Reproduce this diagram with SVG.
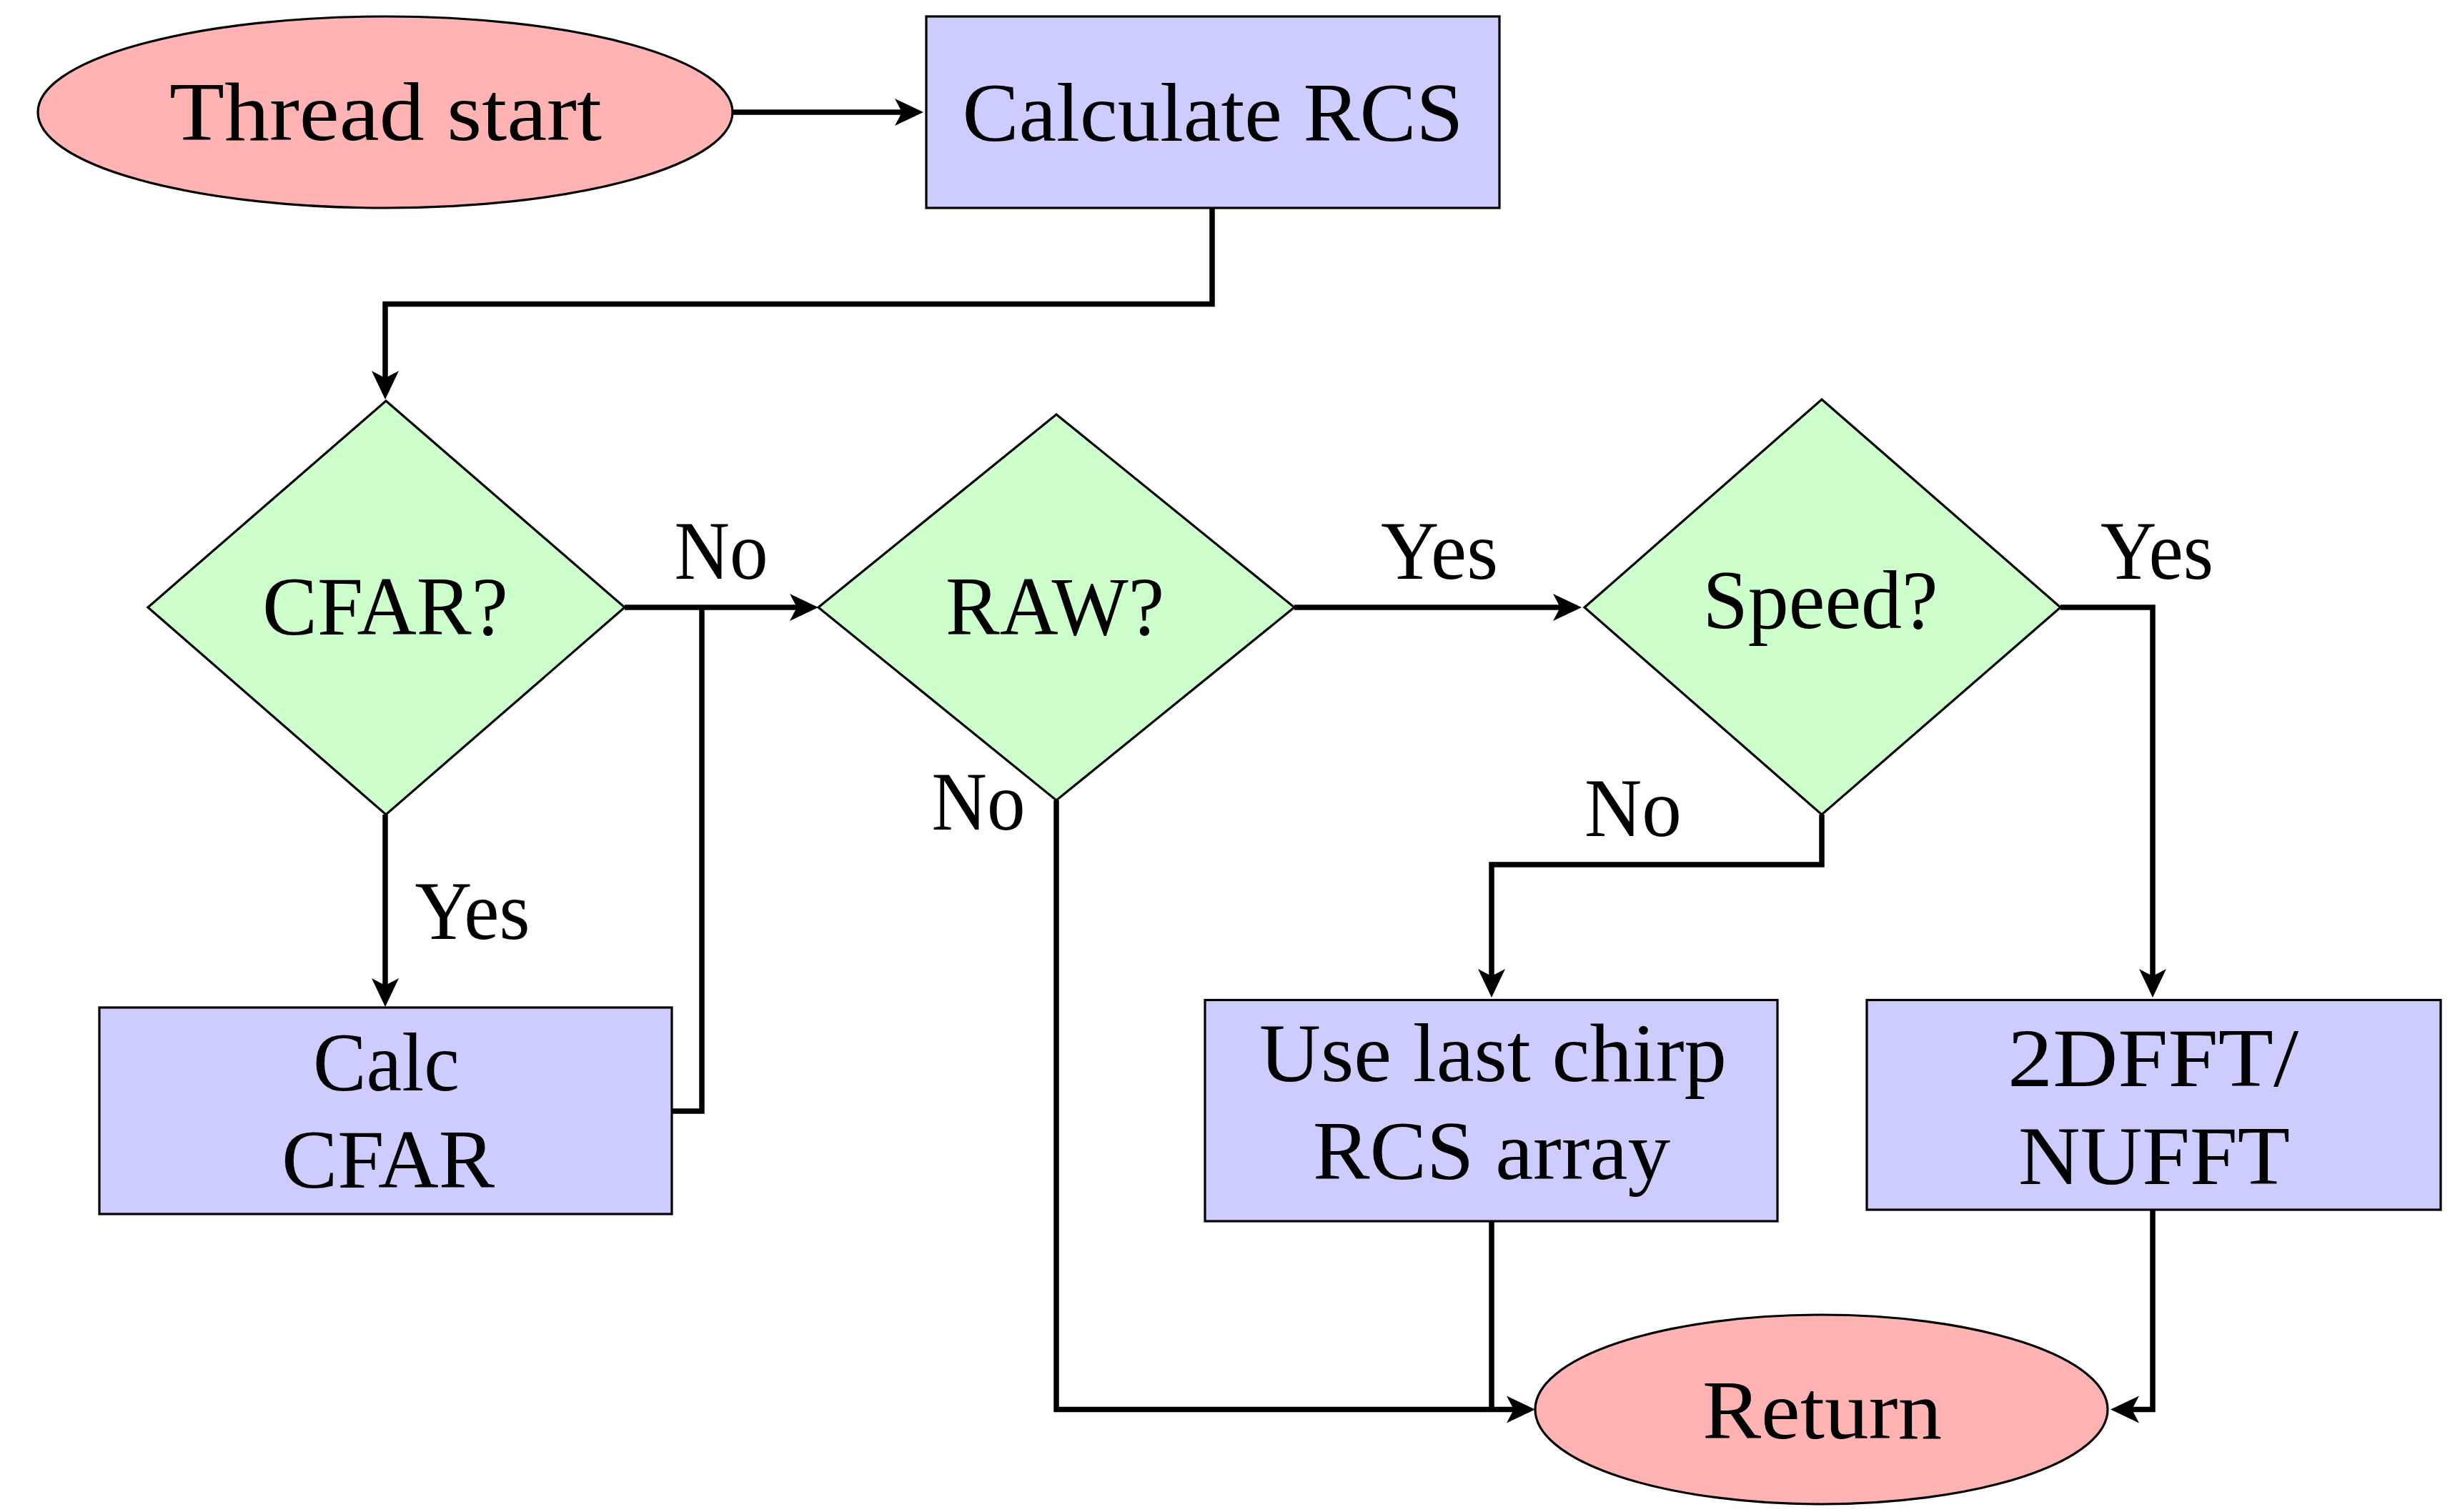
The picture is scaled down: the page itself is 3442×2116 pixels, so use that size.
<svg xmlns="http://www.w3.org/2000/svg" width="3442" height="2116" viewBox="0 0 3442 2116">
<style>
.term{fill:#FFB3B3;stroke:#000;stroke-width:3.2}
.proc{fill:#CCCCFF;stroke:#000;stroke-width:3.2}
.dec{fill:#CCFFCC;stroke:#000;stroke-width:3.2;stroke-linejoin:miter}
.t{font-family:"Liberation Serif","DejaVu Serif",serif;font-size:116px;fill:#000;text-anchor:middle}
.c{fill:none;stroke:#000;stroke-width:7.5;stroke-linejoin:miter;stroke-linecap:butt}
.a{marker-end:url(#arr)}
</style>
<defs>
<marker id="arr" markerUnits="userSpaceOnUse" viewBox="-20 -20 44 40" markerWidth="44" markerHeight="40" refX="0" refY="0" orient="auto" overflow="visible">
<path d="M22,0 L-18,-19 L-8,0 L-18,19 Z" fill="#000"/>
</marker>
</defs>
<rect width="3442" height="2116" fill="#fff"/>
<g id="connectors">
<path class="c a" d="M1025,157 H1270"/>
<path class="c a" d="M1696,291 V425.5 H539 V537"/>
<path class="c a" d="M539,1140 V1387"/>
<path class="c a" d="M874,850 H1123"/>
<path class="c" d="M940,1555 H982 V850"/>
<path class="c a" d="M1811,850 H2191"/>
<path class="c a" d="M2883,850 H3012 V1374"/>
<path class="c a" d="M2549,1140 V1210 H2087 V1374"/>
<path class="c a" d="M1478,1120 V1972.5 H2126"/>
<path class="c" d="M2087,1709 V1972.5"/>
<path class="c a" d="M3012,1693 V1972.5 H2975"/>
<text class="t" x="1009" y="810" textLength="131" lengthAdjust="spacingAndGlyphs">No</text>
<text class="t" x="661" y="1314" textLength="161" lengthAdjust="spacingAndGlyphs">Yes</text>
<text class="t" x="2014" y="810" textLength="164" lengthAdjust="spacingAndGlyphs">Yes</text>
<text class="t" x="1369" y="1161" textLength="131" lengthAdjust="spacingAndGlyphs">No</text>
<text class="t" x="3018" y="810" textLength="158" lengthAdjust="spacingAndGlyphs">Yes</text>
<text class="t" x="2285" y="1170" textLength="136" lengthAdjust="spacingAndGlyphs">No</text>
</g>
<g id="thread-start">
<ellipse class="term" cx="539" cy="157" rx="486" ry="134"/>
<text class="t" x="539.5" y="196" textLength="605" lengthAdjust="spacingAndGlyphs">Thread start</text>
</g>
<g id="calc-rcs">
<rect class="proc" x="1296" y="23" width="802" height="268"/>
<text class="t" x="1697" y="197" textLength="701" lengthAdjust="spacingAndGlyphs">Calculate RCS</text>
</g>
<g id="cfar">
<polygon class="dec" points="540,561 874,850 540,1140 207,850"/>
<text class="t" x="539" y="888" textLength="344" lengthAdjust="spacingAndGlyphs">CFAR?</text>
</g>
<g id="raw">
<polygon class="dec" points="1478,580 1811,850 1478,1120 1145,850"/>
<text class="t" x="1476" y="888" textLength="306" lengthAdjust="spacingAndGlyphs">RAW?</text>
</g>
<g id="speed">
<polygon class="dec" points="2549,559 2883,850 2549,1140 2217,850"/>
<text class="t" x="2547" y="879" textLength="329" lengthAdjust="spacingAndGlyphs">Speed?</text>
</g>
<g id="calc-cfar">
<rect class="proc" x="139" y="1410" width="801" height="289"/>
<text class="t" x="540.5" y="1526" textLength="205" lengthAdjust="spacingAndGlyphs">Calc</text>
<text class="t" x="543" y="1662" textLength="298" lengthAdjust="spacingAndGlyphs">CFAR</text>
</g>
<g id="use-last-chirp">
<rect class="proc" x="1686" y="1399.5" width="801" height="309.5"/>
<text class="t" x="2089" y="1513" textLength="654" lengthAdjust="spacingAndGlyphs">Use last chirp</text>
<text class="t" x="2087" y="1650" textLength="500" lengthAdjust="spacingAndGlyphs">RCS array</text>
</g>
<g id="fft">
<rect class="proc" x="2612" y="1399.5" width="803" height="293.5"/>
<text class="t" x="3012.5" y="1520" textLength="407" lengthAdjust="spacingAndGlyphs">2DFFT/</text>
<text class="t" x="3014" y="1657" textLength="380" lengthAdjust="spacingAndGlyphs">NUFFT</text>
</g>
<g id="return">
<ellipse class="term" cx="2548.5" cy="1972.5" rx="400.5" ry="132.5"/>
<text class="t" x="2549.5" y="2013" textLength="335" lengthAdjust="spacingAndGlyphs">Return</text>
</g>
</svg>
